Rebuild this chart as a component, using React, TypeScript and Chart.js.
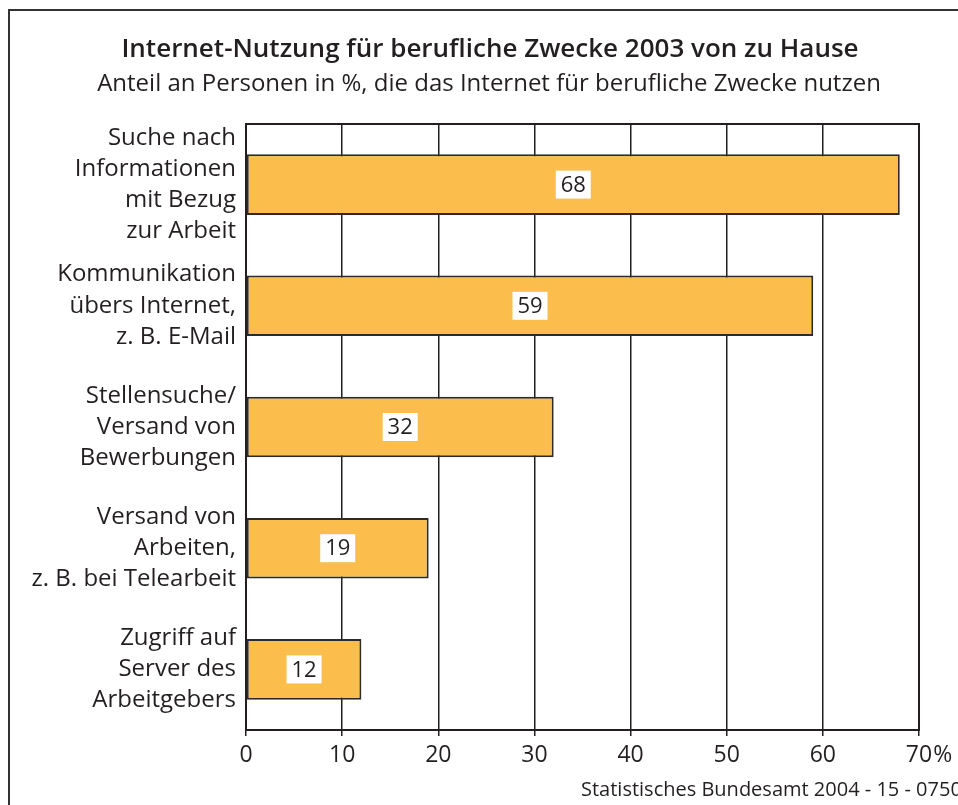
import React, { useEffect, useRef } from "react";
import { Chart, registerables } from "chart.js";

Chart.register(...registerables);

const titleText = "Internet-Nutzung für berufliche Zwecke 2003 von zu Hause";
const subtitleText = "Anteil an Personen in %, die das Internet für berufliche Zwecke nutzen";
const sourceText = "Statistisches Bundesamt 2004 - 15 - 0750";

const categories: string[][] = [
  ["Suche nach", "Informationen", "mit Bezug", "zur Arbeit"],
  ["Kommunikation", "übers Internet,", "z. B. E-Mail"],
  ["Stellensuche/", "Versand von", "Bewerbungen"],
  ["Versand von", "Arbeiten,", "z. B. bei Telearbeit"],
  ["Zugriff auf", "Server des", "Arbeitgebers"],
];
const values: number[] = [68, 59, 32, 19, 12];
const tickValues: number[] = [0, 10, 20, 30, 40, 50, 60, 70];

const FONT = "'Open Sans', 'Noto Sans', sans-serif";
const INK = "#231f20";

const decorPlugin = {
  id: "decor",
  afterDraw(chart: any) {
    const ctx = chart.ctx;
    const ca = chart.chartArea;
    ctx.save();
    // outer frame
    ctx.strokeStyle = "#333";
    ctx.lineWidth = 2;
    ctx.strokeRect(9, 10, 1200, 1200);
    // plot frame
    ctx.strokeStyle = INK;
    ctx.lineWidth = 2;
    ctx.strokeRect(ca.left, ca.top, ca.right - ca.left, ca.bottom - ca.top);
    // titles
    ctx.fillStyle = INK;
    ctx.textAlign = "center";
    ctx.textBaseline = "middle";
    ctx.font = `600 26px ${FONT}`;
    ctx.fillText(titleText, 490, 50);
    ctx.font = `400 24px ${FONT}`;
    ctx.fillText(subtitleText, 489, 84);
    // source
    ctx.textAlign = "left";
    ctx.font = `400 20px ${FONT}`;
    ctx.fillText(sourceText, 581, 790);
    // percent sign after the last tick
    const xs = chart.scales.x;
    const px = xs.getPixelForValue(70);
    ctx.font = `400 23px ${FONT}`;
    const w = ctx.measureText("70").width;
    ctx.fillText("%", px + w / 2 + 1, 755);
    // value labels
    const meta = chart.getDatasetMeta(0);
    meta.data.forEach((bar: any, i: number) => {
      const v = values[i];
      const cx = (bar.base + bar.x) / 2;
      const cy = bar.y;
      ctx.fillStyle = "#fff";
      ctx.fillRect(cx - 17.5, cy - 14, 35, 28);
      ctx.fillStyle = INK;
      ctx.textAlign = "center";
      ctx.font = `400 22px ${FONT}`;
      ctx.fillText(String(v), cx, cy + 1);
    });
    ctx.restore();
  },
};

export default function App() {
  const ref = useRef<HTMLCanvasElement | null>(null);
  useEffect(() => {
    if (!ref.current) return;
    const chart = new Chart(ref.current, {
      type: "bar",
      data: {
        labels: categories,
        datasets: [
          {
            data: values,
            backgroundColor: "#fbbd4c",
            borderColor: "#2b2b2b",
            borderWidth: 2,
            borderSkipped: false,
            barPercentage: 0.5,
            categoryPercentage: 1,
          },
        ],
      },
      options: {
        indexAxis: "y",
        animation: false,
        responsive: false,
        events: [],
        layout: { padding: { top: 124, right: 39, left: 0, bottom: 0 } },
        plugins: { legend: { display: false }, tooltip: { enabled: false } },
        scales: {
          x: {
            min: 0,
            max: 70,
            afterFit(scale: any) {
              scale.height = 75;
            },
            afterBuildTicks(scale: any) {
              scale.ticks = tickValues.map((v) => ({ value: v }));
            },
            ticks: {
              color: INK,
              font: { family: FONT, size: 23 },
              padding: 6,
              maxRotation: 0,
              autoSkip: false,
            },
            grid: {
              color: INK,
              lineWidth: 1.5,
              tickLength: 6,
              drawTicks: true,
            },
            border: { display: true, color: INK, width: 2 },
          },
          y: {
            afterFit(scale: any) {
              scale.width = 246;
            },
            ticks: {
              color: INK,
              font: { family: FONT, size: 24, lineHeight: 1.3 },
              padding: 10,
              autoSkip: false,
            },
            grid: { display: false, drawTicks: false },
            border: { display: true, color: INK, width: 2 },
          },
        },
      },
      plugins: [decorPlugin],
    });
    return () => chart.destroy();
  }, []);
  return (
    <div style={{ position: "absolute", left: 0, top: 0, width: 958, height: 805, background: "#fff" }}>
      <canvas ref={ref} width={958} height={805} style={{ display: "block" }} />
    </div>
  );
}
